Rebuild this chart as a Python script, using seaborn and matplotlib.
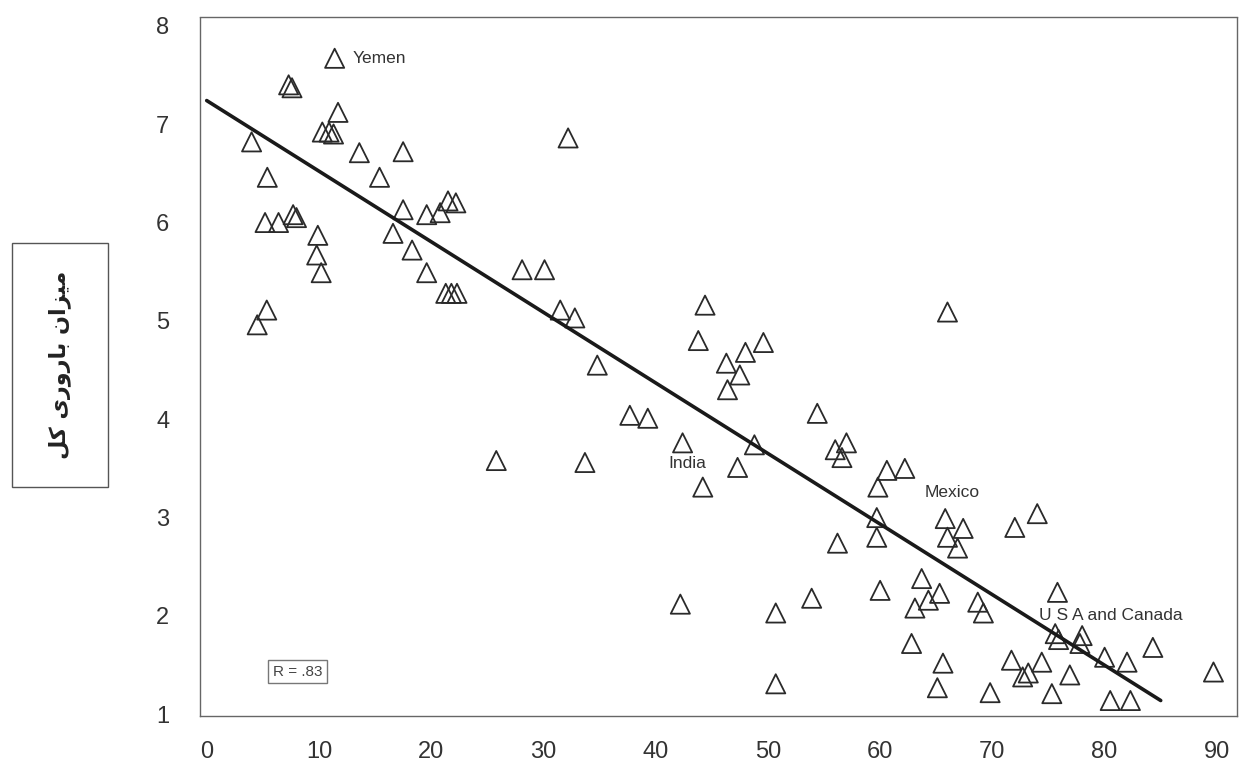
import pandas as pd
import matplotlib
matplotlib.use("Agg")
import matplotlib.pyplot as plt
from matplotlib.patches import Rectangle
import seaborn as sns

# Data
urban_pct = [11.4, 7.3, 7.6, 11.7, 10.3, 10.9, 11.3, 4.0, 13.6, 17.5, 32.2, 5.4, 15.4,
             5.2, 6.4, 7.7, 8.0, 9.9, 9.8, 10.2, 17.5, 16.6, 19.6, 20.8, 21.5, 22.2,
             18.3, 19.6, 21.3, 21.8, 22.3, 5.35, 4.5, 28.1, 30.1, 31.5, 32.8, 34.8,
             37.7, 39.3, 25.8, 33.7, 42.4, 47.3, 44.2, 48.8, 44.4, 43.8, 49.6, 48.0,
             46.3, 47.5, 46.4, 66.0, 54.4, 56.0, 57.0, 56.6, 60.6, 62.2, 59.8, 59.7,
             59.7, 56.2, 65.8, 66.0, 67.4, 66.9, 72.0, 74.0, 75.8, 75.6, 75.9, 78.0,
             77.8, 84.3, 89.7, 71.7, 72.7, 73.2, 74.4, 76.9, 75.3, 80.0, 82.0, 80.5,
             82.3, 53.9, 60.0, 63.7, 65.3, 64.3, 63.1, 68.7, 69.2, 62.8, 65.6, 65.1,
             69.8, 42.2, 50.7, 50.7]
fertility = [7.67, 7.40, 7.37, 7.12, 6.92, 6.92, 6.90, 6.82, 6.71, 6.72, 6.86, 6.46, 6.46,
             6.00, 6.00, 6.08, 6.05, 5.87, 5.67, 5.49, 6.13, 5.89, 6.08, 6.10, 6.22, 6.20,
             5.72, 5.49, 5.28, 5.28, 5.28, 5.11, 4.96, 5.52, 5.52, 5.11, 5.03, 4.55,
             4.04, 4.01, 3.58, 3.56, 3.76, 3.51, 3.31, 3.74, 5.16, 4.80, 4.78, 4.68,
             4.57, 4.45, 4.30, 5.09, 4.06, 3.69, 3.76, 3.61, 3.48, 3.50, 3.31, 3.00,
             2.80, 2.74, 2.99, 2.80, 2.89, 2.69, 2.90, 3.04, 2.24, 1.82, 1.76, 1.80,
             1.72, 1.68, 1.43, 1.55, 1.38, 1.42, 1.53, 1.40, 1.21, 1.58, 1.53, 1.14,
             1.14, 2.18, 2.26, 2.38, 2.23, 2.16, 2.08, 2.14, 2.03, 1.72, 1.52, 1.27,
             1.22, 2.12, 2.03, 1.31]

# fitted line end points
fit_x = [0, 85]
fit_y = [7.24, 1.14]

# labelled countries
label_names = ["Yemen", "India", "Mexico", "U S A and Canada"]
label_x = [13.0, 41.1, 64.0, 74.2]
label_y = [7.67, 3.55, 3.25, 2.0]

x_ticks = [0, 10, 20, 30, 40, 50, 60, 70, 80, 90]
y_ticks = [1, 2, 3, 4, 5, 6, 7, 8]

y_title = "میزان باروری کل"
r_text = "R = .83"

# Persian letters -> presentation forms (isolated, final, initial, medial)
FORMS = {
    "م": ("\uFEE1", "\uFEE2", "\uFEE3", "\uFEE4"),
    "ی": ("\uFBFC", "\uFBFD", "\uFBFE", "\uFBFF"),
    "ز": ("\uFEAF", "\uFEB0", None, None),
    "ا": ("\uFE8D", "\uFE8E", None, None),
    "ن": ("\uFEE5", "\uFEE6", "\uFEE7", "\uFEE8"),
    "ب": ("\uFE8F", "\uFE90", "\uFE91", "\uFE92"),
    "ر": ("\uFEAD", "\uFEAE", None, None),
    "و": ("\uFEED", "\uFEEE", None, None),
    "ک": ("\uFB8E", "\uFB8F", "\uFB90", "\uFB91"),
    "ل": ("\uFEDD", "\uFEDE", "\uFEDF", "\uFEE0"),
}


def shape_fa(text):
    # matplotlib has no bidi / shaping, so do it by hand
    out = []
    for i, ch in enumerate(text):
        if ch not in FORMS:
            out.append(ch)
            continue
        prev = text[i - 1] if i > 0 else ""
        nxt = text[i + 1] if i + 1 < len(text) else ""
        joins_prev = prev in FORMS and FORMS[prev][2] is not None
        joins_next = nxt in FORMS and FORMS[ch][2] is not None
        iso, fin, ini, med = FORMS[ch]
        if joins_prev and joins_next:
            out.append(med)
        elif joins_prev:
            out.append(fin)
        elif joins_next:
            out.append(ini)
        else:
            out.append(iso)
    return "".join(reversed(out))


df = pd.DataFrame({"urban": urban_pct, "tfr": fertility})

sns.set_theme(style="white")
plt.rcParams["font.family"] = ["Liberation Sans Narrow", "Liberation Sans", "DejaVu Sans"]

fig = plt.figure(figsize=(12.42, 7.71), dpi=100)
ax = fig.add_axes([0.161, 0.071, 0.835, 0.907])

sns.scatterplot(data=df, x="urban", y="tfr", marker="^", s=190,
                facecolor="none", edgecolor="#2a2a2a", linewidth=1.3, ax=ax)
sns.lineplot(x=fit_x, y=fit_y, color="#1a1a1a", linewidth=2.6, ax=ax)

for name, lx, ly in zip(label_names, label_x, label_y):
    ax.text(lx, ly, name, fontsize=12.5, color="#333333", va="center", ha="left",
            family=["Liberation Sans", "DejaVu Sans"])

ax.text(0.070, 0.064, r_text, transform=ax.transAxes, fontsize=11, color="#444444",
        ha="left", va="center", family=["Liberation Sans", "DejaVu Sans"],
        bbox=dict(boxstyle="square,pad=0.3", fc="white", ec="#777777", lw=1.0))

ax.set_xlim(-0.6, 91.8)
ax.set_ylim(0.98, 8.09)
ax.set_xticks(x_ticks)
ax.set_yticks(y_ticks)
ax.tick_params(axis="both", length=0, labelsize=17, colors="#333333")
ax.tick_params(axis="x", pad=18)
ax.tick_params(axis="y", pad=22)
ax.set_xlabel("")
ax.set_ylabel("")
for sp in ax.spines.values():
    sp.set_color("#666666")
    sp.set_linewidth(1.0)
    sp.set_linestyle((0, (3, 1)))

# boxed y-axis title on the left
fig.add_artist(Rectangle((12 / 1242, 1 - 487 / 771), 96 / 1242, 244 / 771,
                         transform=fig.transFigure, fill=False, ec="#555555", lw=1.0))
fig.text(60 / 1242, 1 - 365 / 771, shape_fa(y_title), rotation=90, fontsize=16,
         fontweight="bold", family=["DejaVu Sans", "Noto Sans"], color="#222222",
         ha="center", va="center")

fig.savefig("out.png", dpi=100)
